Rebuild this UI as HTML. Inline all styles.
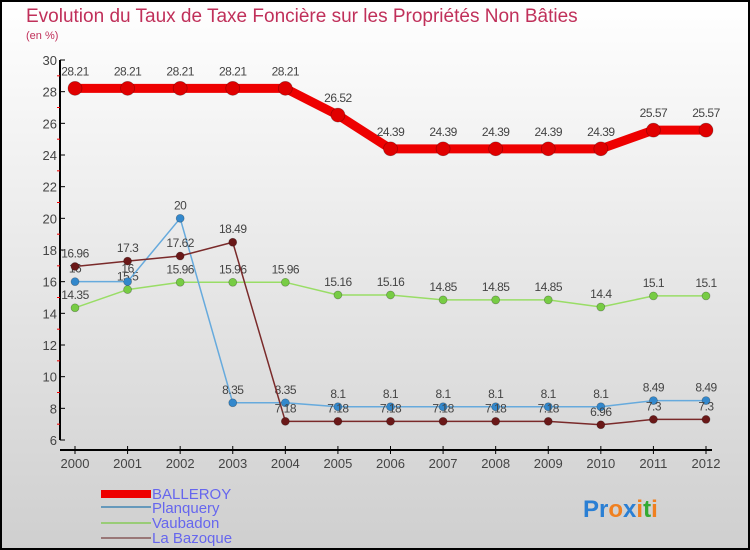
<!DOCTYPE html>
<html><head><meta charset="utf-8"><style>
body{margin:0;width:750px;height:550px;overflow:hidden;font-family:"Liberation Sans",sans-serif}
svg{display:block}
</style></head><body>
<svg id="c" width="750" height="550" xmlns="http://www.w3.org/2000/svg">
<defs><linearGradient id="bg" x1="0" y1="0" x2="0" y2="1"><stop offset="0" stop-color="#ffffff"/><stop offset="1" stop-color="#cfcfcf"/></linearGradient></defs>
<rect x="1" y="1" width="748" height="548" fill="url(#bg)" stroke="#000" stroke-width="2"/>
<text x="26" y="22" font-size="19" fill="#c0305a">Evolution du Taux de Taxe Foncière sur les Propriétés Non Bâties</text>
<text x="26" y="39" font-size="11" fill="#c0305a">(en %)</text>
<g id="axes"></g><g id="series"></g>
<g>
<rect x="101" y="490" width="50" height="8" fill="#e00"/>
<text x="152" y="499" font-size="15" fill="#6666ee">BALLEROY</text>
<line x1="101" y1="507" x2="151" y2="507" stroke="#6699bb" stroke-width="2"/>
<text x="152" y="513" font-size="15" fill="#6666ee">Planquery</text>
<line x1="101" y1="523" x2="151" y2="523" stroke="#99cc77" stroke-width="2"/>
<text x="152" y="528" font-size="15" fill="#6666ee">Vaubadon</text>
<line x1="101" y1="538" x2="151" y2="538" stroke="#997777" stroke-width="2"/>
<text x="152" y="543" font-size="15" fill="#6666ee">La Bazoque</text>
</g>
<text x="583" y="517" font-size="24" font-weight="bold"><tspan fill="#2a7fd4">Pr</tspan><tspan fill="#f08020">o</tspan><tspan fill="#2a7fd4">x</tspan><tspan fill="#f08020">i</tspan><tspan fill="#33aa33">t</tspan><tspan fill="#f08020">i</tspan></text>
</svg>
<script>
const years=["2000","2001","2002","2003","2004","2005","2006","2007","2008","2009","2010","2011","2012"];
const balleroy=[28.21,28.21,28.21,28.21,28.21,26.52,24.39,24.39,24.39,24.39,24.39,25.57,25.57];
const planquery=[16,16,20,8.35,8.35,8.1,8.1,8.1,8.1,8.1,8.1,8.49,8.49];
const vaubadon=[14.35,15.5,15.96,15.96,15.96,15.16,15.16,14.85,14.85,14.85,14.4,15.1,15.1];
const bazoque=[16.96,17.3,17.62,18.49,7.18,7.18,7.18,7.18,7.18,7.18,6.96,7.3,7.3];
const yTicks=[6,8,10,12,14,16,18,20,22,24,26,28,30];
const NS="http://www.w3.org/2000/svg";
const X=i=>75+i*(706-75)/(years.length-1);
const Y=v=>440-(v-6)*(380/24);
function mk(p,t,a){const e=document.createElementNS(NS,t);for(const k in a)e.setAttribute(k,a[k]);p.appendChild(e);return e;}
const ax=document.getElementById('axes');
const yl=mk(ax,'line',{x1:60,y1:60,x2:60,y2:440,stroke:'#000','stroke-width':2});


const xl=mk(ax,'line',{x1:60,y1:450,x2:712,y2:450,stroke:'#000','stroke-width':2});


yTicks.forEach(v=>{
 mk(ax,'line',{x1:60,y1:Y(v),x2:65,y2:Y(v),stroke:'#000'});
 if(v<30) mk(ax,'line',{x1:57,y1:Y(v+1),x2:60,y2:Y(v+1),stroke:'#e00'});
 const t=mk(ax,'text',{x:57,y:Y(v)+5,'font-size':13,'text-anchor':'end',fill:'#444'});
 t.textContent=v;
 
 
});
years.forEach((y,i)=>{
 mk(ax,'line',{x1:X(i),y1:446,x2:X(i),y2:454,stroke:'#000'});
 const t=mk(ax,'text',{x:X(i),y:468,'font-size':13,'text-anchor':'middle',fill:'#444'});
 t.textContent=y;
 
 
});
const sg=document.getElementById('series');
function series(vals,name,color,lw,r,fill,labOff){
 const g=mk(sg,'g',{});
 
 
 mk(g,'polyline',{points:vals.map((v,i)=>X(i)+','+Y(v)).join(' '),fill:'none',stroke:color,'stroke-width':lw,'stroke-linejoin':'round'});
 vals.forEach((v,i)=>{
  const c=mk(g,'circle',{cx:X(i),cy:Y(v),r:r,fill:fill,stroke:'rgba(0,0,0,0.3)','stroke-width':0.7});
  
  
  const t=mk(g,'text',{x:X(i),y:Y(v)-labOff,'font-size':12,'text-anchor':'middle',fill:'#444','letter-spacing':'-0.5'});
  t.textContent=v;
  
  
 });
}
series(vaubadon,'vaubadon','#99dd66',1.5,4,'#77cc44',9);
series(planquery,'planquery','#66aadd',1.5,4,'#3388cc',9);
series(bazoque,'la-bazoque','#7a2a2a',1.5,4,'#6a1818',9);
series(balleroy,'balleroy','#ee0000',9,7,'#e00000',13);
</script>
</body></html>
